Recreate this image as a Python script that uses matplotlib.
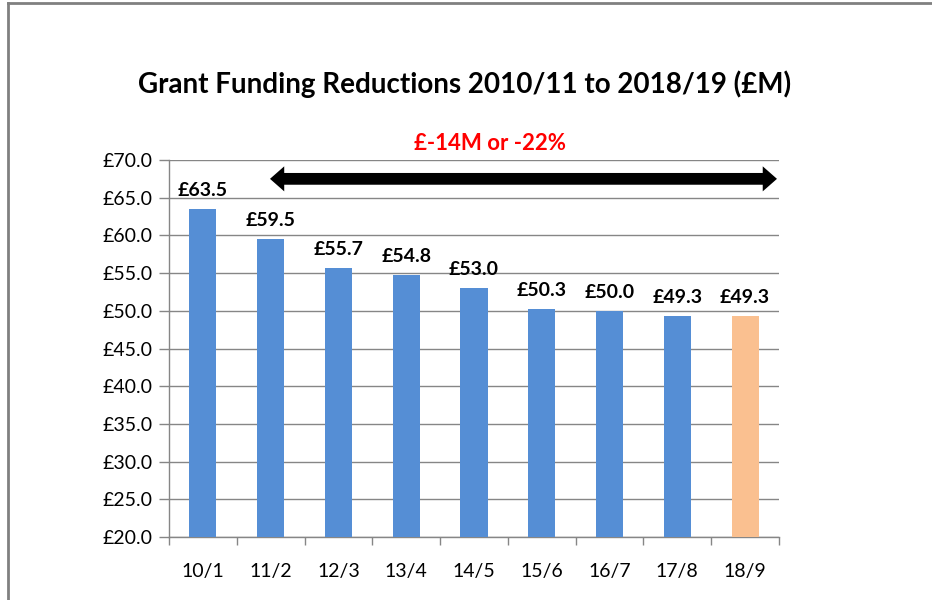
import matplotlib
matplotlib.use("Agg")
import matplotlib.pyplot as plt
from matplotlib.patches import Polygon
from matplotlib.lines import Line2D

categories = ["10/1", "11/2", "12/3", "13/4", "14/5", "15/6", "16/7", "17/8", "18/9"]
values = [63.5, 59.5, 55.7, 54.8, 53.0, 50.3, 50.0, 49.3, 49.3]
labels = ["£63.5", "£59.5", "£55.7", "£54.8", "£53.0", "£50.3", "£50.0", "£49.3", "£49.3"]
bar_colors = ["#558ED5"] * 8 + ["#FAC090"]
yticks = [20, 25, 30, 35, 40, 45, 50, 55, 60, 65, 70]
title = "Grant Funding Reductions 2010/11 to 2018/19 (£M)"
note = "£-14M or -22%"

plt.rcParams['font.family'] = ['Lato', 'DejaVu Sans']

fig = plt.figure(figsize=(9.32, 6.0), dpi=100)
ax = fig.add_axes([169/932, 1-537/600, 610/932, 377/600])

x = list(range(len(categories)))
ax.bar(x, [v - 20 for v in values], bottom=20, width=0.40, color=bar_colors, zorder=3)

ax.set_xlim(-0.5, len(categories) - 0.5)
ax.set_ylim(20, 70)
ax.set_yticks(yticks)
ax.set_yticklabels([f"£{t:.1f}" for t in yticks], fontsize=14)
ax.yaxis.grid(True, color="#868686", linewidth=1.0, zorder=0)
ax.set_axisbelow(True)

ax.set_xticks([i - 0.5 for i in range(len(categories) + 1)])
ax.set_xticklabels([])
ax.set_xticks(x, minor=True)
ax.set_xticklabels(categories, minor=True, fontsize=14)
ax.tick_params(axis='x', which='major', length=6, color="#868686", width=1)
ax.tick_params(axis='x', which='minor', length=0, pad=19)
ax.tick_params(axis='y', length=7, color="#868686", width=1, pad=5)

for s in ["top", "right"]:
    ax.spines[s].set_visible(False)
for s in ["left", "bottom"]:
    ax.spines[s].set_color("#868686")
    ax.spines[s].set_linewidth(1.0)

for xi, v, lab in zip(x, values, labels):
    ax.annotate(lab, (xi, v), xytext=(0, 7), textcoords="offset points",
                ha="center", va="bottom", fontsize=14, fontweight="bold", zorder=5)

# double-headed arrow as a single polygon (annotation shape)
x0, x1, yc = 0.99, 8.47, 67.5
hl, hw, tw = 0.21, 1.66, 0.78
arrow = Polygon([
    (x0, yc), (x0 + hl, yc + hw), (x0 + hl, yc + tw), (x1 - hl, yc + tw),
    (x1 - hl, yc + hw), (x1, yc), (x1 - hl, yc - hw), (x1 - hl, yc - tw),
    (x0 + hl, yc - tw), (x0 + hl, yc - hw)
], closed=True, facecolor="black", edgecolor="none", zorder=6, clip_on=False)
ax.add_patch(arrow)

fig.text(490/932, 1-143/600, note, color="#FF0000", fontsize=16, fontweight="bold",
         ha="center", va="center")
fig.text(465/932, 1-84/600, title, fontsize=20, fontweight="bold", ha="center", va="center")

# outer frame
fig.add_artist(Line2D([7.5/932, 7.5/932], [0, 1-3/600], transform=fig.transFigure,
                      color="#808080", linewidth=2))
fig.add_artist(Line2D([7.5/932, 1], [1-3/600, 1-3/600], transform=fig.transFigure,
                      color="#808080", linewidth=2))

fig.savefig("out.png", dpi=100)
